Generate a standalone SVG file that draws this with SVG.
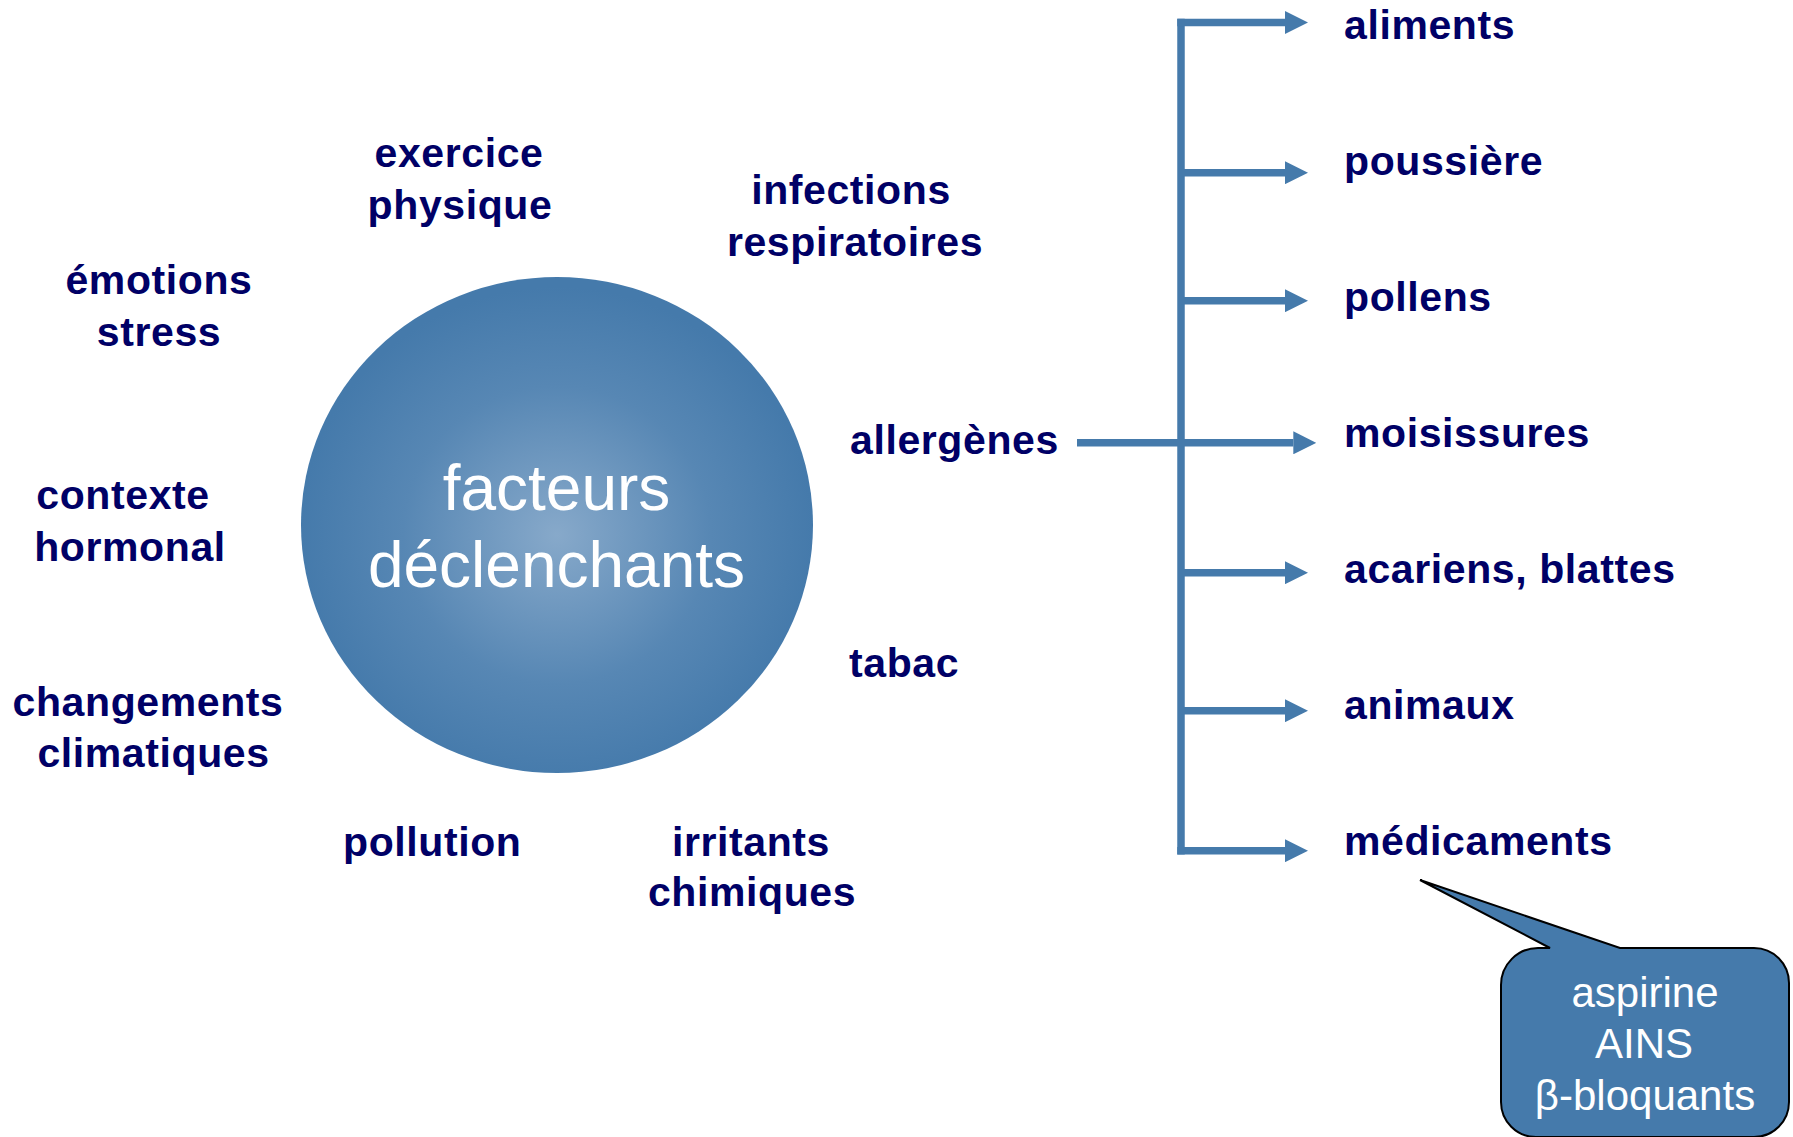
<svg xmlns="http://www.w3.org/2000/svg" width="1793" height="1137" viewBox="0 0 1793 1137">
  <style>
    .lbl { font-family: "Liberation Sans", Arial, sans-serif; font-weight: bold; font-size: 41px; letter-spacing: 0.6px; fill: #000066; }
    .mid { text-anchor: middle; }
    .center { font-family: "Liberation Sans", Arial, sans-serif; font-size: 64px; fill: #ffffff; text-anchor: middle; }
    .call { font-family: "Liberation Sans", Arial, sans-serif; font-size: 42px; fill: #ffffff; text-anchor: middle; }
    .conn { fill: none; stroke: #457aab; stroke-width: 7.5; }
  </style>
  <defs>
    <radialGradient id="bubble" cx="50%" cy="52%" r="50%">
      <stop offset="0" stop-color="#87a9ca"/>
      <stop offset="0.6" stop-color="#5787b4"/>
      <stop offset="1" stop-color="#457aab"/>
    </radialGradient>
    <marker id="arr" viewBox="0 0 23 23" refX="0" refY="11.5" markerWidth="23" markerHeight="23" markerUnits="userSpaceOnUse" orient="auto">
      <path d="M0,0 L23,11.5 L0,23 Z" fill="#457aab"/>
    </marker>
  </defs>

  <g id="center-node">
    <ellipse cx="557" cy="525" rx="256" ry="248" fill="url(#bubble)"/>
    <text class="center" x="556.5" y="510">facteurs</text>
    <text class="center" x="556.5" y="587">déclenchants</text>
  </g>

  <g id="exercice"><text class="lbl mid" x="459" y="167">exercice</text><text class="lbl mid" x="460" y="219">physique</text></g>
  <g id="emotions"><text class="lbl mid" x="159" y="294">émotions</text><text class="lbl mid" x="159" y="346">stress</text></g>
  <g id="infections"><text class="lbl mid" x="851" y="204">infections</text><text class="lbl mid" x="855" y="256">respiratoires</text></g>
  <g id="contexte"><text class="lbl mid" x="123" y="509">contexte</text><text class="lbl mid" x="130" y="561">hormonal</text></g>
  <g id="changements"><text class="lbl mid" x="148" y="716">changements</text><text class="lbl mid" x="153.5" y="767">climatiques</text></g>
  <g id="pollution"><text class="lbl" x="343" y="855.5">pollution</text></g>
  <g id="irritants"><text class="lbl mid" x="751" y="855.5">irritants</text><text class="lbl mid" x="752" y="906">chimiques</text></g>
  <g id="allergenes"><text class="lbl" x="850" y="454">allergènes</text></g>
  <g id="tabac"><text class="lbl" x="849" y="677">tabac</text></g>

  <g id="aliments"><text class="lbl" x="1344" y="38.5">aliments</text></g>
  <g id="poussiere"><text class="lbl" x="1344" y="175">poussière</text></g>
  <g id="pollens"><text class="lbl" x="1344" y="311">pollens</text></g>
  <g id="moisissures"><text class="lbl" x="1344" y="447">moisissures</text></g>
  <g id="acariens"><text class="lbl" x="1344" y="583">acariens, blattes</text></g>
  <g id="animaux"><text class="lbl" x="1344" y="719">animaux</text></g>
  <g id="medicaments"><text class="lbl" x="1344" y="855">médicaments</text></g>

  <g id="connectors">
    <line class="conn" x1="1181" y1="18.7" x2="1181" y2="854.5"/>
    <line class="conn" x1="1077" y1="442.8" x2="1293.3" y2="442.8" marker-end="url(#arr)"/>
    <line class="conn" x1="1177.3" y1="22.5" x2="1285" y2="22.5" marker-end="url(#arr)"/>
    <line class="conn" x1="1181" y1="172.7" x2="1285" y2="172.7" marker-end="url(#arr)"/>
    <line class="conn" x1="1181" y1="300.7" x2="1285" y2="300.7" marker-end="url(#arr)"/>
    <line class="conn" x1="1181" y1="572.7" x2="1285" y2="572.7" marker-end="url(#arr)"/>
    <line class="conn" x1="1181" y1="710.7" x2="1285" y2="710.7" marker-end="url(#arr)"/>
    <line class="conn" x1="1177.3" y1="850.7" x2="1285" y2="850.7" marker-end="url(#arr)"/>
  </g>

  <g id="callout">
    <path d="M1538,948 L1550,948 L1420,880 L1620,948 L1754,948 A35,35 0 0 1 1789,983 L1789,1102 A35,35 0 0 1 1754,1137 L1536,1137 A35,35 0 0 1 1501,1102 L1501,985 A37,37 0 0 1 1538,948 Z" fill="#457aab" stroke="#000000" stroke-width="2" stroke-linejoin="miter"/>
    <text class="call" x="1645" y="1006.5">aspirine</text>
    <text class="call" x="1644" y="1058">AINS</text>
    <text class="call" x="1645" y="1110">β-bloquants</text>
  </g>
</svg>
